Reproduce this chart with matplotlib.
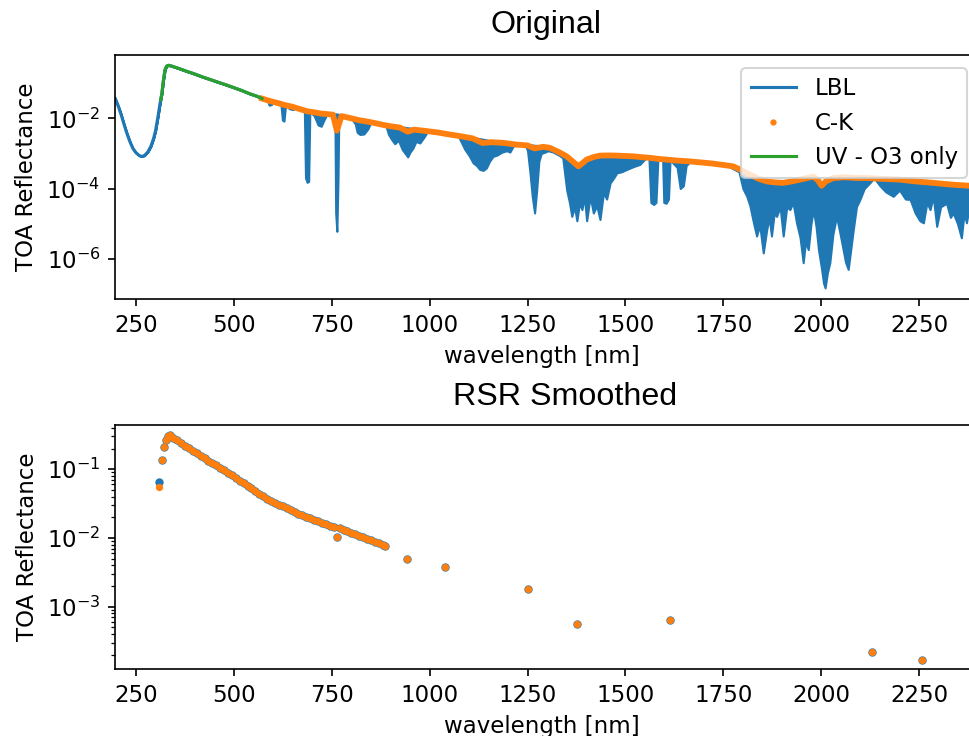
import matplotlib
matplotlib.use('Agg')
import matplotlib.pyplot as plt
from matplotlib.lines import Line2D

# LBL spectrum: wavelength, top of the line, bottom of absorption features
lbl_wl = [197, 205, 212, 220, 227, 235, 242, 250, 258, 265, 272, 280, 288, 295, 300, 306, 311, 316, 320, 324,
          328, 333, 340, 360, 380, 400, 420, 440, 460, 480, 500, 520, 540, 560, 572, 580, 586, 590, 596, 600,
          610, 620, 624, 628, 632, 642, 650, 658, 669, 680, 683, 687, 691, 694, 705, 715, 723, 730, 738, 758,
          760, 763, 766, 768, 800, 810, 815, 822, 832, 842, 850, 888, 895, 903, 911, 920, 930, 944, 950, 957,
          965, 975, 987, 995, 1073, 1080, 1090, 1100, 1111, 1120, 1128, 1137, 1145, 1153, 1162, 1172, 1185, 1197, 1205, 1213,
          1220, 1245, 1250, 1256, 1262, 1268, 1273, 1279, 1285, 1295, 1302, 1315, 1330, 1340, 1350, 1357, 1363, 1370, 1376, 1383,
          1389, 1395, 1401, 1410, 1418, 1427, 1435, 1444, 1452, 1461, 1470, 1478, 1490, 1503, 1520, 1537, 1550, 1560, 1565, 1572,
          1578, 1583, 1595, 1598, 1604, 1610, 1614, 1632, 1640, 1648, 1655, 1665, 1760, 1790, 1800, 1810, 1818, 1826, 1835, 1843,
          1852, 1861, 1867, 1873, 1880, 1886, 1895, 1903, 1912, 1920, 1928, 1937, 1946, 1954, 1960, 1967, 1974, 1980, 1987, 1993,
          2001, 2006, 2010, 2016, 2022, 2030, 2039, 2047, 2056, 2062, 2069, 2076, 2082, 2090, 2099, 2110, 2124, 2135, 2150, 2165,
          2184, 2200, 2215, 2227, 2240, 2252, 2261, 2270, 2278, 2286, 2295, 2305, 2320, 2330, 2337, 2348, 2358, 2365, 2371, 2378]
lbl_top = [0.037, 0.022, 0.013, 0.0065, 0.0037, 0.0021, 0.0014, 0.00105, 0.00088, 0.00082, 0.00088, 0.0011, 0.0016, 0.0027, 0.0045, 0.011, 0.025, 0.05, 0.12, 0.24,
           0.31, 0.33, 0.316, 0.266, 0.221, 0.186, 0.153, 0.129, 0.108, 0.091, 0.076, 0.063, 0.051, 0.0427, 0.037, 0.034, 0.033, 0.032, 0.031, 0.030,
           0.028, 0.026, 0.0255, 0.025, 0.0245, 0.022, 0.021, 0.020, 0.0185, 0.017, 0.0167, 0.0164, 0.016, 0.0158, 0.015, 0.0145, 0.014, 0.0138, 0.0135, 0.0128,
           0.0127, 0.0126, 0.0125, 0.0123, 0.0101, 0.0095, 0.0092, 0.009, 0.0086, 0.0082, 0.0078, 0.0063, 0.0062, 0.006, 0.0058, 0.0056, 0.0054, 0.0051, 0.005, 0.0049,
           0.0048, 0.0046, 0.0045, 0.0044, 0.0032, 0.0031, 0.003, 0.0028, 0.0027, 0.0026, 0.0025, 0.0024, 0.0023, 0.0022, 0.0022, 0.0021, 0.0021, 0.002, 0.002, 0.0019,
           0.0018, 0.0017, 0.0017, 0.00168, 0.00165, 0.0016, 0.0016, 0.00158, 0.00155, 0.0015, 0.0015, 0.0013, 0.0011, 0.00095, 0.00083, 0.0007, 0.0006, 0.0005, 0.00045, 0.00045,
           0.0005, 0.0006, 0.00067, 0.00075, 0.0008, 0.00085, 0.00087, 0.00088, 0.00088, 0.00088, 0.00088, 0.00087, 0.00086, 0.00085, 0.00083, 0.0008, 0.00077, 0.00076, 0.00075, 0.00074,
           0.00073, 0.00072, 0.00069, 0.00068, 0.00067, 0.00066, 0.00066, 0.00063, 0.00062, 0.00061, 0.0006, 0.00059, 0.00045, 0.00036, 0.00032, 0.00028, 0.00025, 0.00022, 0.0002, 0.00018,
           0.00017, 0.00016, 0.00016, 0.00015, 0.00015, 0.00015, 0.000145, 0.000145, 0.00015, 0.00016, 0.00017, 0.00017, 0.00018, 0.00019, 0.0002, 0.0002, 0.00021, 0.00022, 0.0002, 0.00017,
           0.00013, 0.00014, 0.00015, 0.00017, 0.00019, 0.0002, 0.0002, 0.0002, 0.0002, 0.0002, 0.00021, 0.00021, 0.00021, 0.0002, 0.0002, 0.0002, 0.0002, 0.0002, 0.00019, 0.00019,
           0.00018, 0.00018, 0.00017, 0.00017, 0.00016, 0.00016, 0.000155, 0.00015, 0.00015, 0.000145, 0.00014, 0.00014, 0.000135, 0.00013, 0.00013, 0.000125, 0.000125, 0.00012, 0.00012, 0.00012]
lbl_low = [0.037, 0.022, 0.013, 0.0065, 0.0037, 0.0021, 0.0014, 0.00105, 0.00088, 0.00082, 0.00088, 0.0011, 0.0016, 0.0027, 0.0045, 0.011, 0.025, 0.05, 0.12, 0.24,
           0.31, 0.33, 0.316, 0.266, 0.221, 0.186, 0.153, 0.129, 0.108, 0.091, 0.076, 0.063, 0.051, 0.0427, 0.037, 0.034, 0.033, 0.024, 0.025, 0.030,
           0.028, 0.026, 0.009, 0.0084, 0.024, 0.019, 0.018, 0.0195, 0.0185, 0.017, 0.0002, 0.00015, 0.00016, 0.0157, 0.012, 0.0065, 0.006, 0.009, 0.0134, 0.0128,
           2e-5, 6e-6, 0.0002, 0.0123, 0.0101, 0.007, 0.004, 0.0035, 0.0036, 0.005, 0.0078, 0.0063, 0.0035, 0.0025, 0.0019, 0.0024, 0.0013, 0.0008, 0.0011, 0.0014,
           0.0022, 0.002, 0.0031, 0.0044, 0.0032, 0.0022, 0.0013, 0.0009, 0.00054, 0.00045, 0.00035, 0.00033, 0.00039, 0.0006, 0.00083, 0.0009, 0.0011, 0.0012, 0.0011, 0.0016,
           0.0018, 0.0017, 0.0012, 0.0003, 6e-5, 2e-5, 8e-5, 0.0006, 0.001, 0.0011, 0.0012, 0.0011, 0.0009, 0.00075, 9e-5, 4e-5, 1.6e-5, 3e-5, 1.2e-5, 4e-5,
           2.5e-5, 6e-5, 1.2e-5, 6e-5, 2e-5, 3.2e-5, 1.3e-5, 7.6e-5, 5e-5, 0.000145, 0.0002, 0.00028, 0.0003, 0.00035, 0.00042, 0.00049, 0.0007, 0.00076, 4e-5, 3.5e-5,
           4e-5, 0.0007, 0.00069, 4e-5, 3.8e-5, 5e-5, 0.00066, 0.0004, 0.0001, 0.00012, 0.00045, 0.00059, 0.00045, 0.0003, 0.0001, 6e-5, 3.2e-5, 1.2e-5, 4.4e-6, 9e-6,
           1.45e-6, 6.8e-6, 1.5e-5, 4.4e-6, 2e-5, 1.6e-5, 3e-5, 4.4e-6, 3e-5, 2.5e-5, 4e-5, 1.05e-5, 4e-6, 7.6e-7, 3e-6, 1.8e-6, 1e-5, 2.5e-5, 8e-6, 1.8e-6,
           5e-7, 2e-7, 1.45e-7, 4e-7, 7.6e-7, 5e-6, 1.6e-5, 6e-6, 1.8e-6, 8e-7, 4.9e-7, 2e-6, 6.8e-6, 3e-5, 4.9e-5, 0.0001, 0.000145, 0.0002, 0.00012, 8e-5,
           6e-5, 9e-5, 5e-5, 4.9e-5, 2e-5, 1.2e-5, 1.05e-5, 4e-5, 2.5e-5, 6e-5, 8.3e-6, 3e-5, 3.8e-5, 1.5e-5, 2e-5, 1e-5, 3.9e-6, 2e-5, 1.05e-5, 3e-5]

# correlated-k result
ck_wl = [572, 590, 610, 628, 650, 669, 688, 705, 723, 740, 753, 763, 775, 800, 820, 840, 860, 880, 900, 924,
         944, 960, 990, 1020, 1050, 1080, 1110, 1135, 1160, 1190, 1220, 1250, 1268, 1290, 1307, 1330, 1350, 1365, 1380, 1392,
         1401, 1420, 1435, 1460, 1478, 1500, 1520, 1545, 1563, 1585, 1605, 1630, 1660, 1690, 1720, 1750, 1775, 1795, 1818, 1840,
         1861, 1880, 1903, 1925, 1946, 1965, 1980, 1992, 2001, 2012, 2031, 2060, 2090, 2116, 2150, 2201, 2240, 2286, 2330, 2378]
ck_val = [0.037, 0.032, 0.028, 0.0245, 0.0215, 0.0185, 0.016, 0.015, 0.0138, 0.0133, 0.0128, 0.0045, 0.0117, 0.0101, 0.0089, 0.0082, 0.0074, 0.0066, 0.006, 0.0055,
          0.0042, 0.0048, 0.0044, 0.004, 0.0035, 0.0031, 0.0027, 0.002, 0.0021, 0.002, 0.0018, 0.0017, 0.0014, 0.00155, 0.00145, 0.0011, 0.00083, 0.0006, 0.00043, 0.00055,
          0.00067, 0.0008, 0.00087, 0.00088, 0.00087, 0.00085, 0.00083, 0.00078, 0.00075, 0.0007, 0.00067, 0.00063, 0.0006, 0.00056, 0.00052, 0.00047, 0.00043, 0.00034, 0.00025, 0.00019,
          0.00016, 0.00015, 0.000145, 0.00016, 0.00018, 0.0002, 0.00022, 0.00017, 0.00012, 0.00016, 0.0002, 0.00021, 0.0002, 0.0002, 0.00019, 0.00018, 0.00016, 0.000145, 0.00013, 0.00012]

# UV part, ozone absorption only
uv_wl = [313, 316, 320, 324, 328, 333, 340, 360, 380, 400, 420, 440, 460, 480, 500, 520, 540, 560, 572]
uv_val = [0.034, 0.05, 0.12, 0.24, 0.31, 0.33, 0.316, 0.266, 0.221, 0.186, 0.153, 0.129, 0.108, 0.091, 0.076, 0.063, 0.051, 0.0427, 0.037]

# RSR smoothed values
rsr_wl = [309, 316, 321, 326, 331, 337, 345, 355, 365, 375, 385, 395, 405, 415, 425, 435, 445, 455, 465, 475,
          485, 495, 505, 515, 525, 535, 545, 555, 565, 575, 585, 595, 605, 615, 625, 635, 645, 655, 665, 675,
          685, 695, 705, 715, 725, 735, 745, 755, 763, 770, 780, 790, 800, 810, 820, 830, 840, 850, 860, 870,
          880, 887, 941, 1038, 1250, 1377, 1614, 2129, 2257]
rsr_lbl = [0.065, 0.135, 0.21, 0.27, 0.30, 0.31, 0.288, 0.263, 0.24, 0.221, 0.204, 0.186, 0.17, 0.157, 0.145, 0.133, 0.123, 0.114, 0.105, 0.0966,
           0.0891, 0.0813, 0.075, 0.0684, 0.063, 0.0575, 0.0525, 0.0479, 0.0442, 0.0403, 0.0372, 0.0347, 0.0324, 0.0305, 0.0288, 0.0269, 0.0254, 0.0237, 0.0224, 0.0214,
           0.0202, 0.0195, 0.0182, 0.0174, 0.0166, 0.0158, 0.0151, 0.0146, 0.0102, 0.0138, 0.0132, 0.0126, 0.0119, 0.0114, 0.0108, 0.0102, 0.0098, 0.0093, 0.0088, 0.0084,
           0.0079, 0.0077, 0.0049, 0.0038, 0.0018, 0.00056, 0.00065, 0.00022, 0.000168]
rsr_ck = list(rsr_lbl)
rsr_ck[0] = 0.055

xticks = [250, 500, 750, 1000, 1250, 1500, 1750, 2000, 2250]

plt.rcParams['font.size'] = 11

fig = plt.figure(figsize=(969 / 150, 736 / 150), dpi=150)

ax1 = fig.add_axes([115 / 969, 1 - 299 / 736, 854 / 969, 244 / 736])
ax1.fill_between(lbl_wl, lbl_low, lbl_top, color='C0', lw=1.0)
ax1.plot(lbl_wl, lbl_top, color='C0', label='LBL')
ax1.plot(ck_wl, ck_val, color='C1', lw=2.8)
ax1.plot(uv_wl, uv_val, color='C2', label='UV - O3 only')
ax1.set_yscale('log')
ax1.set_xlim(196.4, 2377.5)
ax1.set_ylim(7e-8, 0.65)
ax1.set_yticks([1e-6, 1e-4, 1e-2])
ax1.yaxis.set_minor_locator(matplotlib.ticker.NullLocator())
ax1.set_xticks(xticks)
ax1.spines['right'].set_visible(False)
ax1.set_xlabel('wavelength [nm]')
ax1.set_ylabel('TOA Reflectance')
handles = [Line2D([], [], color='C0'),
           Line2D([], [], color='C1', marker='.', ls='none', ms=4),
           Line2D([], [], color='C2')]
ax1.legend(handles, ['LBL', 'C-K', 'UV - O3 only'], loc='upper right',
           bbox_to_anchor=(0.9977, 0.9467), borderaxespad=0)

ax2 = fig.add_axes([115 / 969, 1 - 669 / 736, 854 / 969, 244 / 736])
ax2.plot(rsr_wl, rsr_lbl, '.', color='C0')
ax2.plot(rsr_wl, rsr_ck, '.', color='C1', ms=5)
ax2.set_yscale('log')
ax2.set_xlim(196.4, 2377.5)
ax2.set_ylim(1.24e-4, 0.44)
ax2.set_xticks(xticks)
ax2.spines['right'].set_visible(False)
ax2.set_xlabel('wavelength [nm]')
ax2.set_ylabel('TOA Reflectance')

fig.text(546 / 969, 1 - 25 / 736, 'Original', ha='center', va='center',
         family='Liberation Sans', fontsize=15.5)
fig.text(565 / 969, 1 - 397 / 736, 'RSR Smoothed', ha='center', va='center',
         family='Liberation Sans', fontsize=15.5)

fig.savefig('out.png', dpi=150)
